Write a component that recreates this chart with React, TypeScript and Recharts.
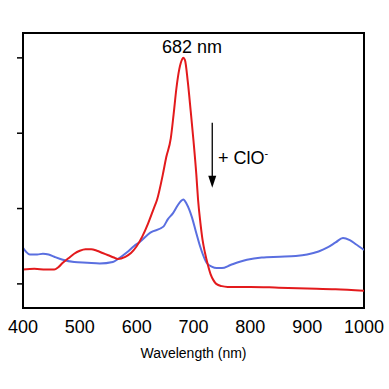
import React from 'react';
import { LineChart, Line, XAxis, YAxis, ReferenceLine, ReferenceDot, ReferenceArea } from 'recharts';

const redWl = [400, 420, 440, 455, 462, 470, 480, 490, 500, 510, 520, 530, 540, 550, 560, 567, 580, 590, 600, 610, 620, 630, 636, 646, 652, 660, 665, 670, 675, 680, 682, 685, 690, 695, 700, 705, 708, 712, 716, 720, 725, 730, 735, 740, 750, 760, 800, 850, 900, 950, 1000];
const redAbs = [1.19, 1.2, 1.19, 1.19, 1.22, 1.28, 1.34, 1.4, 1.44, 1.46, 1.46, 1.44, 1.41, 1.38, 1.35, 1.33, 1.36, 1.41, 1.5, 1.63, 1.8, 2.0, 2.12, 2.45, 2.68, 2.93, 3.25, 3.6, 3.85, 3.98, 4.0, 3.97, 3.68, 3.3, 2.9, 2.45, 2.12, 1.82, 1.58, 1.42, 1.26, 1.13, 1.05, 1.0, 0.97, 0.96, 0.96, 0.95, 0.94, 0.93, 0.91];

const blueWl = [400, 405, 412, 425, 435, 445, 455, 470, 490, 513, 535, 558, 567, 583, 595, 606, 624, 647, 655, 664, 672, 678, 682, 688, 697, 704, 712, 717, 723, 732, 741, 750, 765, 780, 794, 820, 852, 880, 900, 920, 935, 950, 963, 975, 985, 1000];
const blueAbs = [1.48, 1.43, 1.39, 1.39, 1.4, 1.39, 1.36, 1.32, 1.29, 1.28, 1.27, 1.29, 1.33, 1.42, 1.5, 1.56, 1.68, 1.76, 1.86, 1.94, 2.04, 2.1, 2.12, 2.06, 1.89, 1.7, 1.49, 1.38, 1.28, 1.23, 1.21, 1.21, 1.25, 1.29, 1.32, 1.35, 1.36, 1.37, 1.39, 1.43, 1.48, 1.55, 1.61, 1.58, 1.53, 1.45];

const xTicks = [400, 500, 600, 700, 800, 900, 1000];
const yTicks = [1, 2, 3, 4];
const peakLabel = '682 nm';
const arrowLabel = '+ ClO';
const xTitle = 'Wavelength (nm)';

const redData = redWl.map((w, i) => ({ w, v: redAbs[i] }));
const blueData = blueWl.map((w, i) => ({ w, v: blueAbs[i] }));

const FONT = '"Liberation Sans", Arial, sans-serif';

export default function App() {
  return (
    <div style={{ position: 'absolute', left: 0, top: 0, background: '#fff' }}>
      <LineChart width={389} height={389} margin={{ top: 33, right: 25, left: 0, bottom: 0 }}>
        <XAxis
          dataKey="w"
          type="number"
          domain={[400, 1000]}
          ticks={xTicks}
          allowDataOverflow
          height={81}
          tickLine={false}
          tickSize={6}
          tickMargin={6}
          axisLine={{ stroke: '#000', strokeWidth: 2 }}
          tick={{ fill: '#000', fontSize: 18, fontFamily: FONT }}
          label={{ value: xTitle, position: 'insideBottom', offset: 31, fill: '#000', fontSize: 14, fontFamily: FONT }}
        />
        <YAxis
          type="number"
          domain={[0.68, 4.33]}
          ticks={yTicks}
          allowDataOverflow
          width={23}
          tickSize={6}
          tickLine={{ stroke: '#000', strokeWidth: 1.5 }}
          axisLine={{ stroke: '#000', strokeWidth: 2 }}
          tick={() => <g />}
        />
        <ReferenceArea x1={400} x2={1000} y1={0.68} y2={4.33} fill="none" stroke="#000" strokeWidth={2} ifOverflow="extendDomain" />
        <Line data={blueData} dataKey="v" type="monotone" stroke="#5a6fe0" strokeWidth={2} dot={false} isAnimationActive={false} />
        <Line data={redData} dataKey="v" type="monotone" stroke="#e31a1c" strokeWidth={2} dot={false} isAnimationActive={false} />
        <ReferenceLine segment={[{ x: 733, y: 3.14 }, { x: 733, y: 2.4 }]} stroke="#000" strokeWidth={1.3} />
        <ReferenceDot
          x={733}
          y={2.275}
          r={0}
          shape={(p: any) => (
            <polygon points={`${p.cx - 4},${p.cy - 12} ${p.cx + 4},${p.cy - 12} ${p.cx},${p.cy}`} fill="#000" />
          )}
        />
        <ReferenceDot
          x={697.5}
          y={4.07}
          r={0}
          shape={(p: any) => (
            <text x={p.cx} y={p.cy} textAnchor="middle" fontSize={18} fontFamily={FONT} fill="#000">{peakLabel}</text>
          )}
        />
        <ReferenceDot
          x={743}
          y={2.59}
          r={0}
          shape={(p: any) => (
            <text x={p.cx} y={p.cy} textAnchor="start" fontSize={18} fontFamily={FONT} fill="#000">
              {arrowLabel}
              <tspan dy={-7} fontSize={11}>-</tspan>
            </text>
          )}
        />
      </LineChart>
    </div>
  );
}
